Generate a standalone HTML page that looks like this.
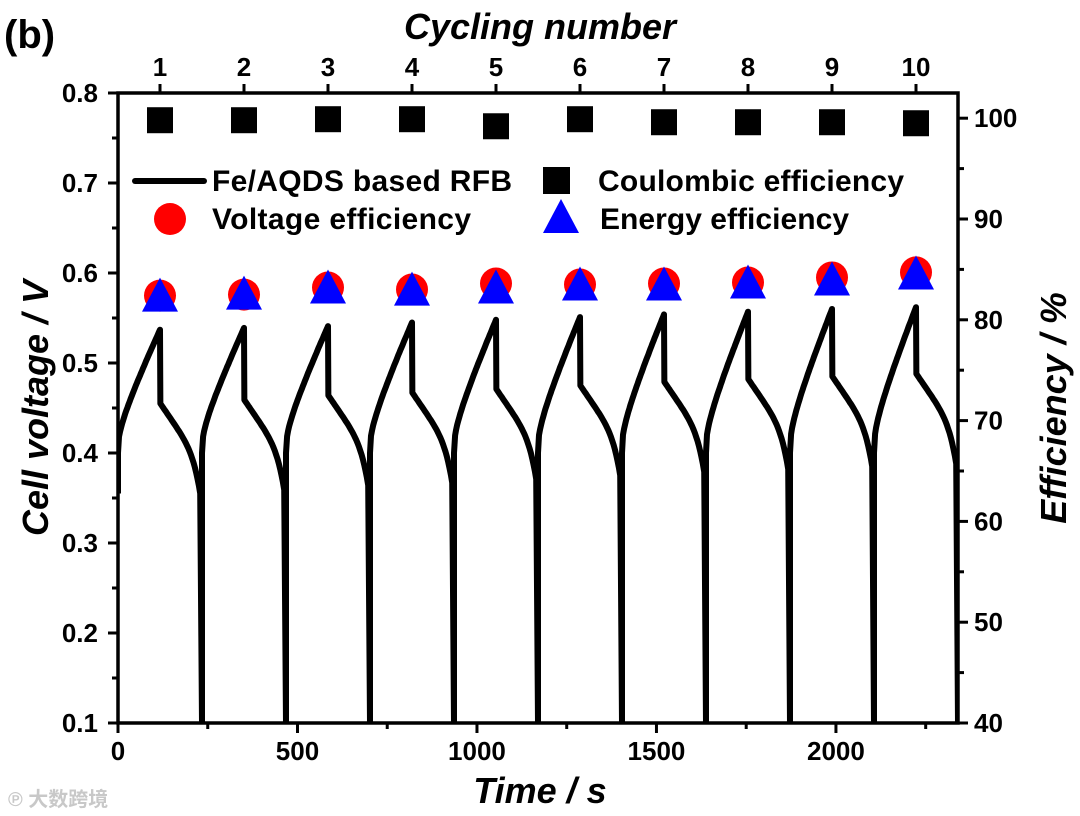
<!DOCTYPE html>
<html><head><meta charset="utf-8">
<style>
html,body{margin:0;padding:0;background:#fff;}
svg{display:block;font-family:"Liberation Sans",Arial,sans-serif;font-weight:bold;}
</style></head>
<body>
<svg id="chart" width="1080" height="816" viewBox="0 0 1080 816" xmlns="http://www.w3.org/2000/svg">
<text x="4" y="48" font-size="40">(b)</text>
<text x="540" y="39" font-size="36" font-style="italic" text-anchor="middle">Cycling number</text>
<text x="540" y="803" font-size="36" font-style="italic" text-anchor="middle">Time / s</text>
<text transform="translate(48,408) rotate(-90)" font-size="36" font-style="italic" text-anchor="middle">Cell voltage / V</text>
<text transform="translate(1066,408) rotate(-90)" font-size="36" font-style="italic" text-anchor="middle">Efficiency / %</text>
<text x="8" y="806" font-size="20" fill="#c8c8c8" font-family="'Liberation Sans','Noto Sans CJK SC',sans-serif">℗ 大数跨境</text>
<g id="plot"></g>
</svg>
<script>
const cycles = [1,2,3,4,5,6,7,8,9,10];
const coulombic = [99.8,99.8,99.9,99.9,99.2,99.9,99.6,99.6,99.6,99.5];
const voltageEff = [82.4,82.5,83.2,83.0,83.6,83.5,83.6,83.7,84.2,84.7];
const energyEff = [82.2,82.4,83.0,82.8,83.0,83.3,83.3,83.5,83.8,84.4];
const peakV = [0.537,0.539,0.541,0.545,0.548,0.551,0.554,0.557,0.560,0.562];
const dischargeV = [0.455,0.459,0.464,0.467,0.471,0.475,0.479,0.482,0.485,0.488];
const xTicks = [0,500,1000,1500,2000];
const yTicks = [0.1,0.2,0.3,0.4,0.5,0.6,0.7,0.8];
const rTicks = [40,50,60,70,80,90,100];

const L=118,R=958,T=93,B=723;
const xMax=2340, period=234, chargeT=117;
const X=t=>L+(t/xMax)*(R-L);
const Y=v=>B-(v-0.1)/0.7*(B-T);
const YR=e=>B-(e-40)/62.5*(B-T);
const g=document.getElementById('plot');
const NS='http://www.w3.org/2000/svg';
function el(tag,attrs,parent){const e=document.createElementNS(NS,tag);for(const k in attrs)e.setAttribute(k,attrs[k]);(parent||g).appendChild(e);return e;}

const defs=el('defs',{});
const cp=el('clipPath',{id:'clip'},defs);el('rect',{x:L,y:T,width:R-L,height:B-T},cp);

let d='';
cycles.forEach((c,i)=>{
  const t0=i*period;
  const p=peakV[i], dv=dischargeV[i];
  const start = i===0?0.355:0.1;
  d+=(i===0?'M':'L')+X(t0)+','+Y(start)+' ';
  if(i>0) d+='L'+X(t0)+','+Y(0.40)+' ';
  for(let k=0;k<=40;k++){const u=k/40;
    const v=0.40+(p-0.40)*(0.35*Math.pow(u,0.3)+0.65*u);
    d+='L'+X(t0+u*chargeT).toFixed(1)+','+Y(v).toFixed(1)+' ';}
  d+='L'+X(t0+chargeT+1)+','+Y(dv)+' ';
  for(let k=1;k<=30;k++){const u=k/30;
    const v=dv-0.065*u-0.035*Math.pow(u,6);
    d+='L'+X(t0+chargeT+1+u*(period-chargeT-6)).toFixed(1)+','+Y(v).toFixed(1)+' ';}
  d+='L'+X(t0+period)+','+Y(0.1)+' ';
});
const line=el('path',{d:d,fill:'none',stroke:'#000','stroke-width':6,'stroke-linejoin':'round','clip-path':'url(#clip)'});



cycles.forEach((c,i)=>{
  const cx=X(chargeT+i*period);
  const sq=el('rect',{x:cx-13,y:YR(coulombic[i])-13,width:26,height:26,fill:'#000'});
  
  
  const ci=el('circle',{cx:cx,cy:YR(voltageEff[i]),r:16,fill:'#f00'});
  
  
  const y=YR(energyEff[i]);
  const tr=el('polygon',{points:`${cx},${y-20} ${cx+18},${y+14} ${cx-18},${y+14}`,fill:'#00f'});
  
  
  const tl=el('text',{x:cx,y:76,'font-size':26,'text-anchor':'middle'});tl.textContent=c;
  
  
  el('line',{x1:cx,y1:T,x2:cx,y2:T-9,stroke:'#000','stroke-width':3});
});

el('rect',{x:L,y:T,width:R-L,height:B-T,fill:'none',stroke:'#000','stroke-width':3.5});
xTicks.forEach(t=>{
  el('line',{x1:X(t),y1:B,x2:X(t),y2:B+10,stroke:'#000','stroke-width':3});
  const tx=el('text',{x:X(t),y:B+37,'font-size':26,'text-anchor':'middle'});tx.textContent=t;
  
  
});
for(let t=250;t<xMax;t+=500) el('line',{x1:X(t),y1:B,x2:X(t),y2:B+6,stroke:'#000','stroke-width':3});
yTicks.forEach(v=>{
  el('line',{x1:L,y1:Y(v),x2:L-10,y2:Y(v),stroke:'#000','stroke-width':3});
  const tx=el('text',{x:L-20,y:Y(v)+9,'font-size':26,'text-anchor':'end'});tx.textContent=v.toFixed(1);
  
  
});
for(let v=0.15;v<0.8;v+=0.1) el('line',{x1:L,y1:Y(v),x2:L-6,y2:Y(v),stroke:'#000','stroke-width':3});
rTicks.forEach(e=>{
  el('line',{x1:R,y1:YR(e),x2:R+10,y2:YR(e),stroke:'#000','stroke-width':3});
  const tx=el('text',{x:R+16,y:YR(e)+9,'font-size':26});tx.textContent=e;
  
  
});
for(let e=45;e<102;e+=10) el('line',{x1:R,y1:YR(e),x2:R+6,y2:YR(e),stroke:'#000','stroke-width':3});

const lg=el('g',{});


el('line',{x1:135,y1:181,x2:204,y2:181,stroke:'#000','stroke-width':6,'stroke-linecap':'round'},lg);
let t1=el('text',{x:212,y:191,'font-size':30,textLength:300},lg);t1.textContent='Fe/AQDS based RFB';
el('rect',{x:543,y:167,width:27,height:27,fill:'#000'},lg);
let t2=el('text',{x:598,y:191,'font-size':30,textLength:306},lg);t2.textContent='Coulombic efficiency';
el('circle',{cx:170,cy:219,r:16,fill:'#f00'},lg);
let t3=el('text',{x:212,y:229,'font-size':30,textLength:259},lg);t3.textContent='Voltage efficiency';
el('polygon',{points:'561,199 579,233 543,233',fill:'#00f'},lg);
let t4=el('text',{x:600,y:229,'font-size':30,textLength:249},lg);t4.textContent='Energy efficiency';
</script>
</body></html>
